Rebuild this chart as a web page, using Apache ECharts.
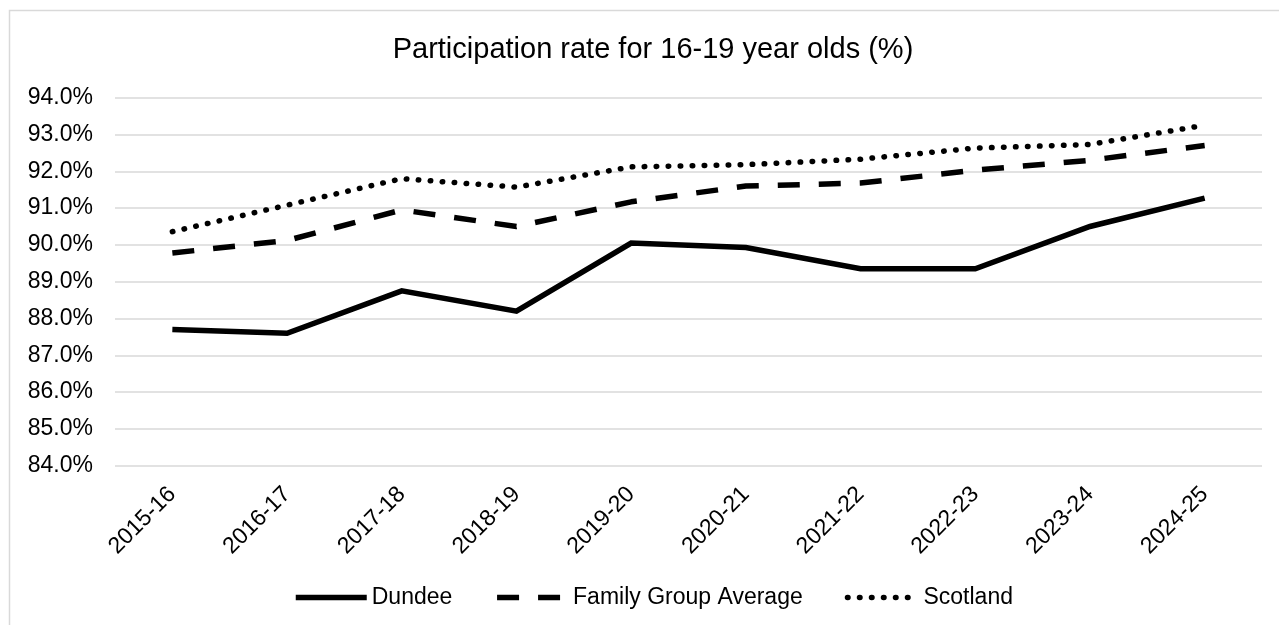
<!DOCTYPE html>
<html>
<head>
<meta charset="utf-8">
<title>Participation rate for 16-19 year olds</title>
<script src="https://cdn.jsdelivr.net/npm/echarts@6/dist/echarts.min.js"></script>
<style>
  html, body { margin: 0; padding: 0; background: #fff; }
  #chart { width: 1279px; height: 625px; }
</style>
</head>
<body>
<div id="chart"></div>
<script>
// 年份（x轴）
var years = ['2015-16', '2016-17', '2017-18', '2018-19', '2019-20',
  '2020-21', '2021-22', '2022-23', '2023-24', '2024-25'];

// 三条线的数据（百分比）
var dundee = [87.7, 87.6, 88.75, 88.2, 90.05, 89.93, 89.35, 89.35, 90.5, 91.27];
var familyGroupAverage = [89.78, 90.12, 90.95, 90.5, 91.17, 91.6, 91.68, 92.03, 92.3, 92.7];
var scotland = [90.36, 91.08, 91.8, 91.57, 92.12, 92.18, 92.33, 92.63, 92.73, 93.25];

var myChart = echarts.init(document.getElementById('chart'));
var fontFamily = 'Liberation Sans, Arial, sans-serif';

var options = {
  animation: false,
  textStyle: { fontFamily: fontFamily },
  title: {
    text: 'Participation rate for 16-19 year olds (%)',
    left: 648,
    top: 30,
    textAlign: 'center',
    textStyle: {
      fontFamily: fontFamily,
      fontSize: 29,
      fontWeight: 'normal',
      color: '#000'
    }
  },
  // 外框（原图右侧和底部被裁掉）
  graphic: [
    {
      type: 'rect',
      shape: { x: 9.5, y: 10.5, width: 1400, height: 800 },
      style: { fill: 'none', stroke: '#d9d9d9', lineWidth: 1.5 },
      silent: true
    }
  ],
  legend: {
    top: 581,
    left: 288,
    itemWidth: 71,
    itemHeight: 14,
    itemGap: 42,
    itemStyle: { opacity: 0 }, // 图例里不要小圆点
    lineStyle: { width: 5.5 },
    textStyle: { fontSize: 23, color: '#000', fontFamily: fontFamily },
    data: ['Dundee', 'Family Group Average', 'Scotland']
  },
  grid: {
    left: 115,
    right: 17,
    top: 97.7,
    bottom: 159.3
  },
  xAxis: {
    type: 'category',
    data: years,
    boundaryGap: true,
    axisLine: { show: false },
    axisTick: { show: false },
    axisLabel: {
      rotate: 45,
      interval: 0,
      margin: 25,
      fontSize: 23,
      color: '#000',
      fontFamily: fontFamily
    }
  },
  yAxis: {
    type: 'value',
    min: 84,
    max: 94,
    interval: 1,
    axisLine: { show: false },
    axisTick: { show: false },
    axisLabel: {
      margin: 22,
      fontSize: 23,
      color: '#000',
      fontFamily: fontFamily,
      formatter: function (v) { return v.toFixed(1) + '%'; }
    },
    splitLine: {
      show: true,
      lineStyle: { color: '#d9d9d9', width: 1.5, type: 'solid' }
    }
  },
  series: [
    {
      name: 'Dundee',
      type: 'line',
      data: dundee,
      symbol: 'none',
      color: '#000',
      lineStyle: { color: '#000', width: 5.5, type: 'solid', join: 'miter' }
    },
    {
      name: 'Family Group Average',
      type: 'line',
      data: familyGroupAverage,
      symbol: 'none',
      color: '#000',
      lineStyle: { color: '#000', width: 5.5, type: [22, 19] }
    },
    {
      name: 'Scotland',
      type: 'line',
      data: scotland,
      symbol: 'none',
      color: '#000',
      lineStyle: { color: '#000', width: 5.5, type: [0.5, 11.5], cap: 'round' }
    }
  ]
};

myChart.setOption(options);
</script>
</body>
</html>
